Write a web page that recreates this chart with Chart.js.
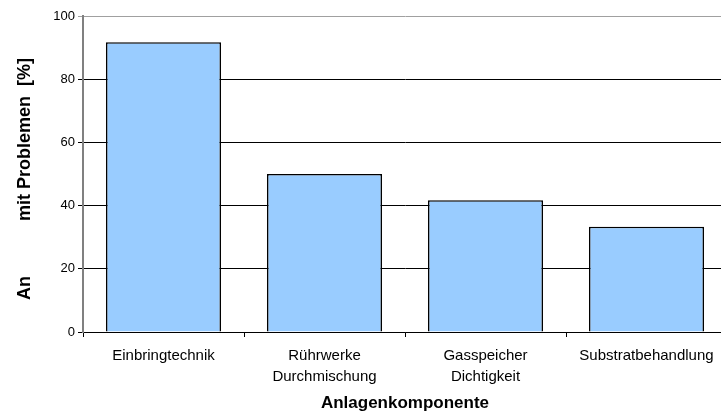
<!DOCTYPE html>
<html>
<head>
<meta charset="utf-8">
<script src="https://cdn.jsdelivr.net/npm/chart.js@4.4.1/dist/chart.umd.min.js"></script>
<style>
  html, body { margin: 0; padding: 0; background: #fff; overflow: hidden; }
  #wrap { width: 730px; height: 411px; }
</style>
</head>
<body>
<div id="wrap"><canvas id="chart" width="730" height="411"></canvas></div>
<script>
// categories and values (share of plants with problems, %)
const categories = ['Einbringtechnik', ['Rührwerke', 'Durchmischung'], ['Gasspeicher', 'Dichtigkeit'], 'Substratbehandlung'];
const shares = [91.7, 50, 41.7, 33.3];
const yTicks = [0, 20, 40, 60, 80, 100];

const ctx = document.getElementById('chart').getContext('2d');
const chart = new Chart(ctx, {
    type: 'bar',
    data: {
        labels: categories,
        datasets: [{
            data: shares,
            backgroundColor: '#99CCFF',
            borderColor: '#000000',
            borderWidth: 1.6,
            barPercentage: 0.715,
            categoryPercentage: 1
        }]
    },
    options: {
        responsive: false,
        animation: false,
        layout: { padding: { top: 16, right: 3, left: 0, bottom: 0 } },
        plugins: {
            legend: { display: false },
            tooltip: { enabled: false }
        },
        scales: {
            x: {
                grid: {
                    offset: true,
                    drawOnChartArea: false,
                    tickLength: 5,
                    color: '#000000'
                },
                border: { color: '#000000', width: 1 },
                ticks: {
                    color: '#000000',
                    font: { family: 'Liberation Sans', size: 15, lineHeight: 1.4 },
                    maxRotation: 0,
                    padding: 8
                },
                title: {
                    display: true,
                    text: 'Anlagenkomponente',
                    color: '#000000',
                    font: { family: 'Liberation Sans', size: 17, weight: 'bold' },
                    padding: { top: 8, bottom: -3 }
                },
                afterFit: function (scale) { scale.height = 79; }
            },
            y: {
                min: 0,
                max: 100,
                afterBuildTicks: function (scale) {
                    scale.ticks = yTicks.map(v => ({ value: v }));
                },
                grid: {
                    color: function (c) { return c.tick && c.tick.value === 100 ? '#A0A0A0' : '#000000'; },
                    lineWidth: 1,
                    tickLength: 5
                },
                border: { color: '#808080', width: 2 },
                ticks: {
                    color: '#000000',
                    font: { family: 'Liberation Sans', size: 13 },
                    padding: 3
                },
                title: {
                    display: true,
                    text: 'An           mit Problemen  [%]  ',
                    color: '#000000',
                    font: { family: 'Liberation Sans', size: 18, weight: 'bold' },
                    padding: { top: 14, bottom: 0 }
                },
                afterFit: function (scale) { scale.width = 83; }
            }
        }
    }
});
</script>
</body>
</html>
